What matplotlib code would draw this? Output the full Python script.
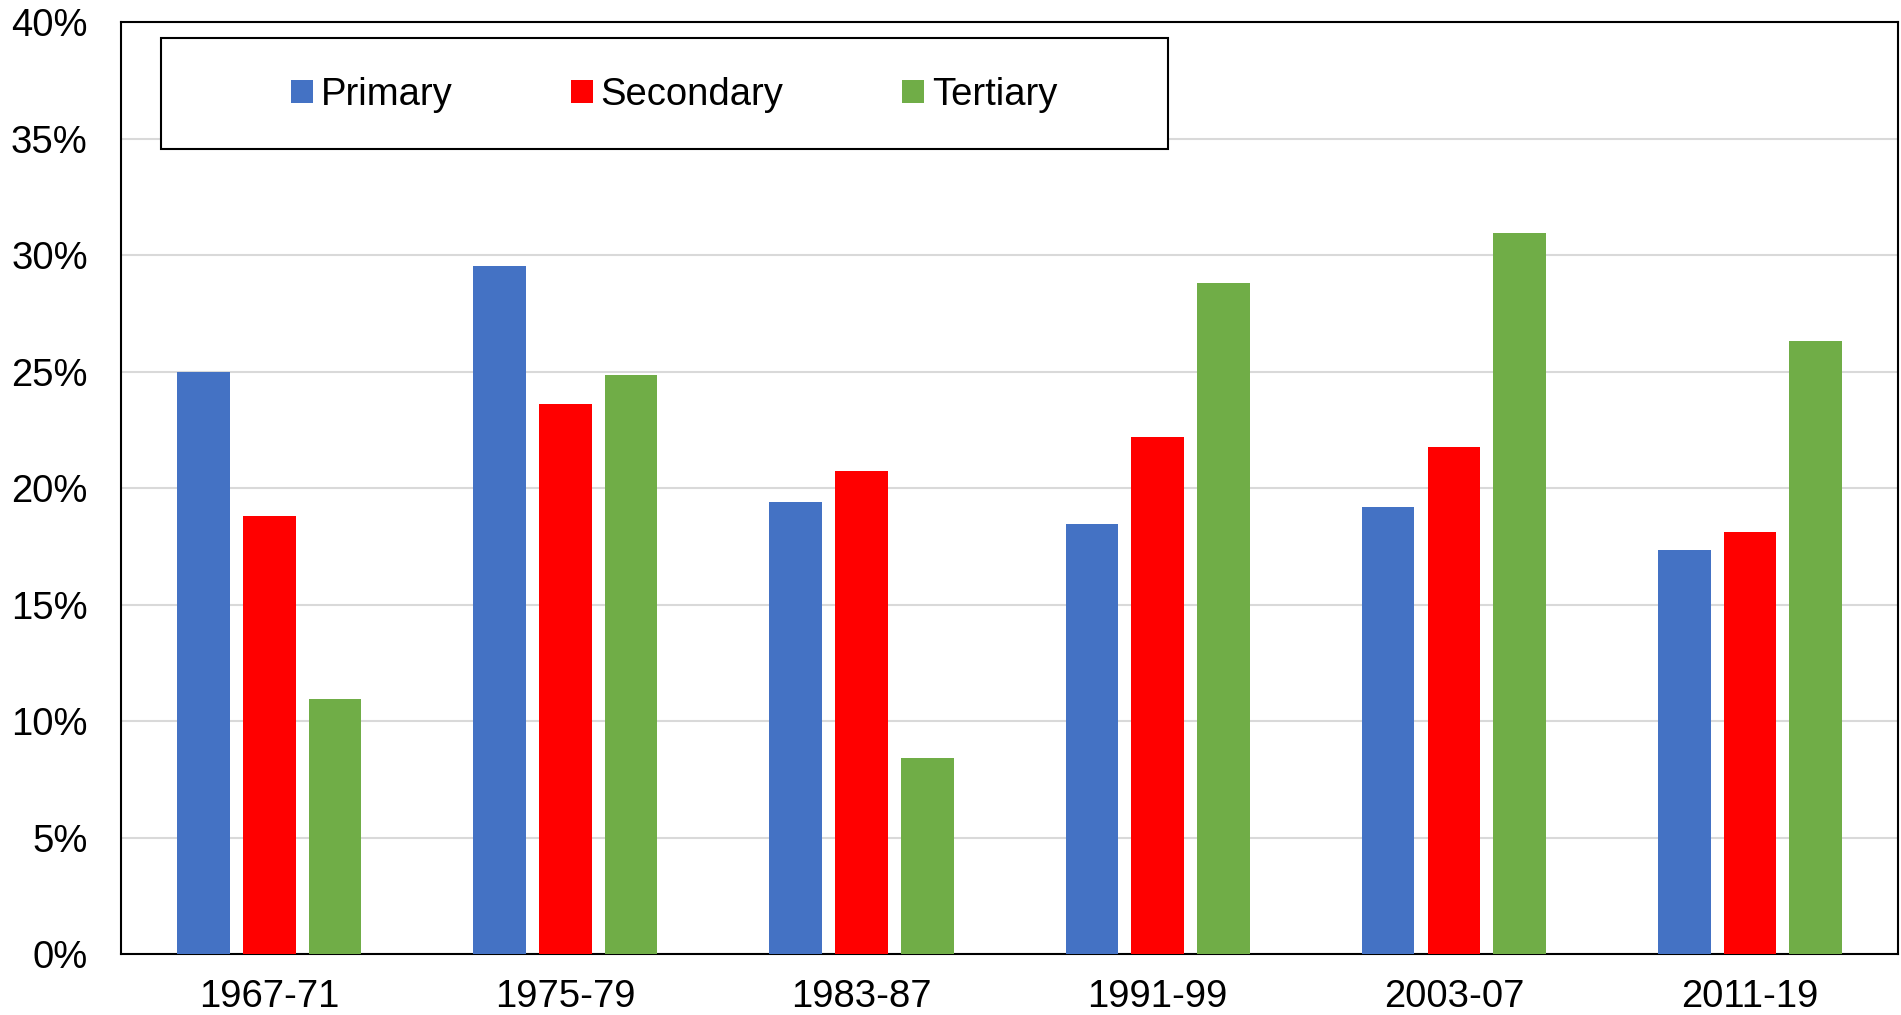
import matplotlib.pyplot as plt
import numpy as np
from matplotlib.patches import Rectangle

plt.rcParams['font.family'] = ['Liberation Sans', 'DejaVu Sans']

periods = ['1967-71', '1975-79', '1983-87', '1991-99', '2003-07', '2011-19']
primary = [25.0, 29.55, 19.4, 18.45, 19.2, 17.35]
secondary = [18.8, 23.6, 20.75, 22.2, 21.75, 18.1]
tertiary = [10.95, 24.85, 8.4, 28.8, 30.95, 26.3]

series = [('Primary', primary, '#4472c4'),
          ('Secondary', secondary, '#ff0000'),
          ('Tertiary', tertiary, '#70ad47')]

fig = plt.figure(figsize=(19.01, 10.15), dpi=100)
ax = fig.add_axes([0.0637, 0.0601, 0.9348, 0.9182])

x = np.arange(len(periods))
w = 0.178
step = 0.222
for i, (name, vals, col) in enumerate(series):
    ax.bar(x + (i - 1) * step, vals, width=w, color=col, label=name, zorder=3)

ax.set_xlim(-0.5, 5.5)
ax.set_ylim(0, 40)
ax.set_yticks(range(0, 41, 5))
ax.set_yticklabels([f'{v}%' for v in range(0, 41, 5)])
ax.set_xticks(x)
ax.set_xticklabels(periods)
ax.tick_params(axis='both', length=0, labelsize=27.5)
ax.tick_params(axis='x', pad=18)
ax.tick_params(axis='y', pad=24)
ax.grid(axis='y', color='#d9d9d9', linewidth=1.5, zorder=0)
for s in ax.spines.values():
    s.set_color('black')
    s.set_linewidth(1.5)

# legend box
ax.add_patch(Rectangle((161 / 1901, 1 - 149 / 1015), (1168 - 161) / 1901, (149 - 38) / 1015,
                       transform=fig.transFigure, fill=True, facecolor='white',
                       edgecolor='black', linewidth=1.5, zorder=5))
leg = fig.legend(loc='center', bbox_to_anchor=(674 / 1901, 1 - 95 / 1015), ncol=3,
                 frameon=False, fontsize=27.5, handlelength=0.58, handleheight=0.58,
                 handletextpad=0.2, columnspacing=3.1)
leg.set_zorder(6)

fig.savefig('out.png', dpi=100)
